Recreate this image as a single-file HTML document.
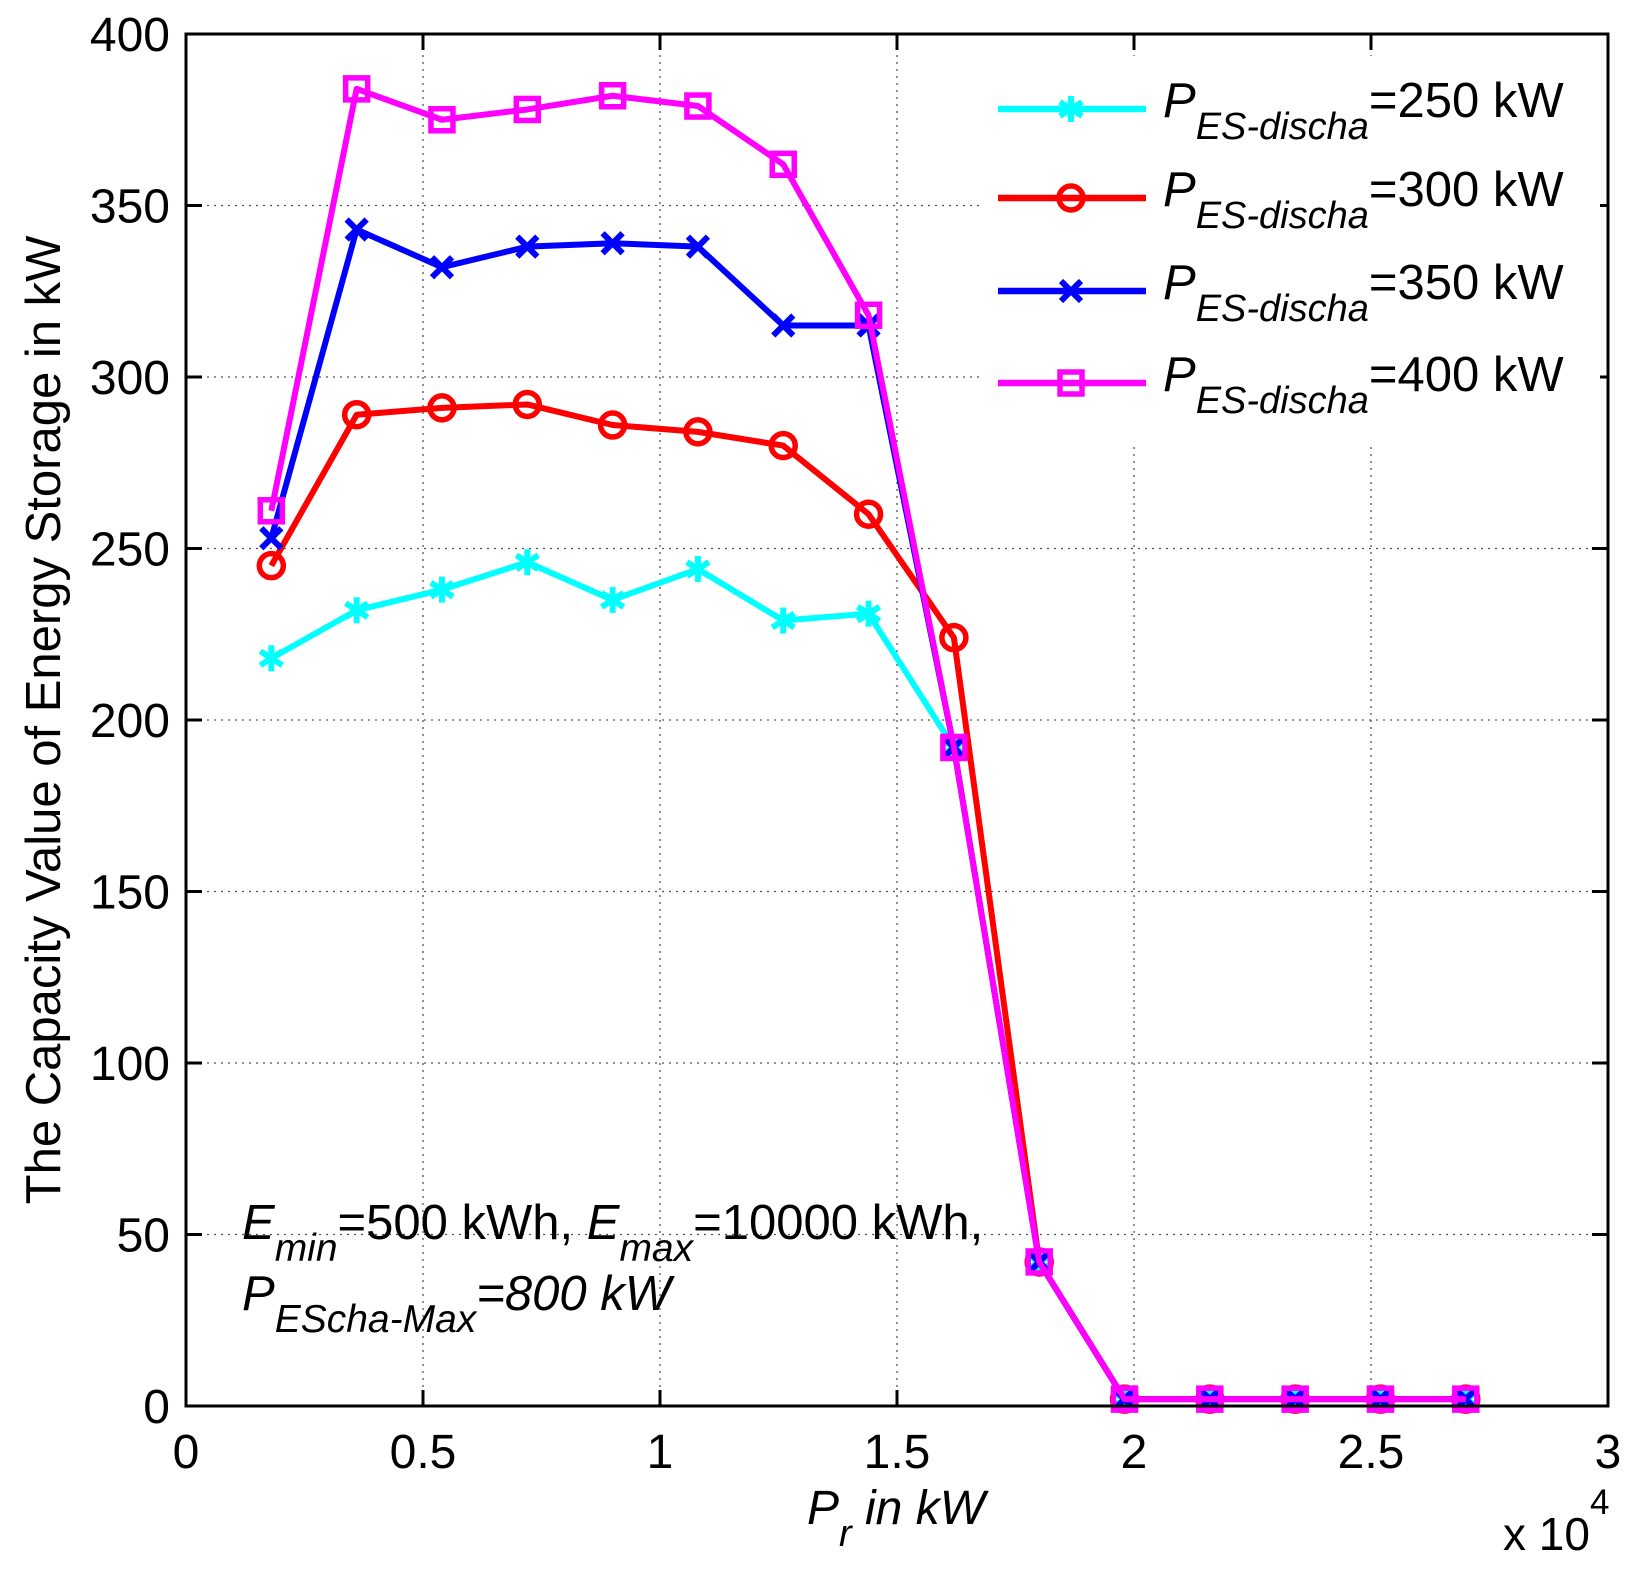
<!DOCTYPE html>
<html><head><meta charset="utf-8"><style>
html,body{margin:0;padding:0;background:#fff}
svg{display:block;font-family:"Liberation Sans",sans-serif}
</style></head><body>
<svg id="chart" width="1636" height="1577" viewBox="0 0 1636 1577" xmlns="http://www.w3.org/2000/svg">
<rect width="1636" height="1577" fill="#fff"/>
<g id="grid"></g>
<g id="ticks"></g>
<g id="series"></g>
<rect x="984" y="56" width="616" height="386" fill="#fff"/>
<g id="legend"></g>
<rect x="186" y="34" width="1422" height="1372" fill="none" stroke="#000" stroke-width="3"/>
<text x="242" y="1239" font-size="49"><tspan font-style="italic">E</tspan><tspan font-style="italic" font-size="39" dy="22">min</tspan><tspan dy="-22">=500 kWh, </tspan><tspan font-style="italic">E</tspan><tspan font-style="italic" font-size="39" dy="22">max</tspan><tspan dy="-22">=10000 kWh,</tspan></text>
<text x="242" y="1310" font-size="49"><tspan font-style="italic">P</tspan><tspan font-style="italic" font-size="39" dy="22">EScha-Max</tspan><tspan dy="-22" font-style="italic">=800 kW</tspan></text>
<text x="807" y="1524" font-size="48" font-style="italic">P<tspan font-size="38" dy="22">r</tspan><tspan dy="-22"> in kW</tspan></text>
<text x="1503" y="1550" font-size="46">x 10<tspan font-size="35" dy="-36">4</tspan></text>
<text transform="translate(60,720) rotate(-90)" text-anchor="middle" font-size="49">The Capacity Value of Energy Storage in kW</text>
</svg>
<script>
const xValues=[1800,3600,5400,7200,9000,10800,12600,14400,16200,18000,19800,21600,23400,25200,27000];
const s250=[218,232,238,246,235,244,229,231,192,42,2,2,2,2,2];
const s300=[245,289,291,292,286,284,280,260,224,42,2,2,2,2,2];
const s350=[253,343,332,338,339,338,315,315,192,42,2,2,2,2,2];
const s400=[261,384,375,378,382,379,362,318,192,42,2,2,2,2,2];
const xTicks=[0,5000,10000,15000,20000,25000,30000];
const xTickLabels=["0","0.5","1","1.5","2","2.5","3"];
const yTicks=[0,50,100,150,200,250,300,350,400];
const seriesNames=["250","300","350","400"];
const NS="http://www.w3.org/2000/svg";
const L=186,R=1608,T=34,B=1406;
function xs(v){return L+(v/30000)*(R-L);}
function ys(v){return B-(v/400)*(B-T);}
function mk(tag,attrs,parent){const e=document.createElementNS(NS,tag);for(const k in attrs)e.setAttribute(k,attrs[k]);parent.appendChild(e);return e;}
const grid=document.getElementById('grid'),ticks=document.getElementById('ticks');
xTicks.forEach((t,i)=>{
  const x=xs(t);
  if(i>0&&i<xTicks.length-1){const g=mk('line',{x1:x,x2:x,y1:T,y2:B,stroke:'#555','stroke-width':1.3,'stroke-dasharray':'2 5'},grid);
  
  }
  const tk=mk('line',{x1:x,x2:x,y1:B,y2:B-16,stroke:'#000','stroke-width':3},ticks);
  
  
  const tk2=mk('line',{x1:x,x2:x,y1:T,y2:T+16,stroke:'#000','stroke-width':3},ticks);
  
  
  const lb=mk('text',{x:x,y:1468,'text-anchor':'middle','font-size':48},ticks);
  lb.textContent=xTickLabels[i];
  
  
});
yTicks.forEach((t,i)=>{
  const y=ys(t);
  if(i>0&&i<yTicks.length-1){const g=mk('line',{x1:L,x2:R,y1:y,y2:y,stroke:'#555','stroke-width':1.3,'stroke-dasharray':'2 5'},grid);
  
  }
  const tk=mk('line',{x1:L,x2:L+16,y1:y,y2:y,stroke:'#000','stroke-width':3},ticks);
  
  
  const tk2=mk('line',{x1:R,x2:R-16,y1:y,y2:y,stroke:'#000','stroke-width':3},ticks);
  
  
  const lb=mk('text',{x:170,y:y+17,'text-anchor':'end','font-size':48},ticks);
  lb.textContent=String(t);
  
  
});
function marker(type,x,y,color,parent){
  const g=mk('g',{},parent);
  if(type==='star'){
    [[0,-13,0,13],[-11,-7,11,7],[-11,7,11,-7]].forEach(a=>mk('line',{x1:x+a[0],y1:y+a[1],x2:x+a[2],y2:y+a[3],stroke:color,'stroke-width':6},g));
  }else if(type==='circle'){
    mk('circle',{cx:x,cy:y,r:12,fill:'none',stroke:color,'stroke-width':5.5},g);
  }else if(type==='x'){
    mk('line',{x1:x-10,y1:y-10,x2:x+10,y2:y+10,stroke:color,'stroke-width':6},g);
    mk('line',{x1:x-10,y1:y+10,x2:x+10,y2:y-10,stroke:color,'stroke-width':6},g);
  }else{
    mk('rect',{x:x-11,y:y-11,width:22,height:22,fill:'none',stroke:color,'stroke-width':5.5},g);
  }
  return g;
}
const defs=[[s250,'#00ffff','star'],[s300,'#ff0000','circle'],[s350,'#0000ff','x'],[s400,'#ff00ff','square']];
const sg=document.getElementById('series');
defs.forEach((d,si)=>{
  const grp=mk('g',{},sg);
  
  
  const pts=d[0].map((v,i)=>xs(xValues[i])+','+ys(v)).join(' ');
  const pl=mk('polyline',{points:pts,fill:'none',stroke:d[1],'stroke-width':6,'stroke-linejoin':'round'},grp);
  
  
  d[0].forEach((v,i)=>{
    const m=marker(d[2],xs(xValues[i]),ys(v),d[1],grp);
    
    
  });
});
const lg=document.getElementById('legend');
const legY=[109,198,291,383];
defs.forEach((d,si)=>{
  const e=mk('g',{},lg);
  
  
  const y=legY[si];
  mk('line',{x1:998,x2:1146,y1:y,y2:y,stroke:d[1],'stroke-width':6.5},e);
  marker(d[2],1071,y,d[1],e);
  const t=mk('text',{x:1163,y:y+8,'font-size':49},e);
  t.innerHTML='<tspan font-style="italic">P</tspan><tspan font-style="italic" font-size="38" dy="22">ES-discha</tspan><tspan dy="-22">='+seriesNames[si]+' kW</tspan>';
});
</script>
</body></html>
